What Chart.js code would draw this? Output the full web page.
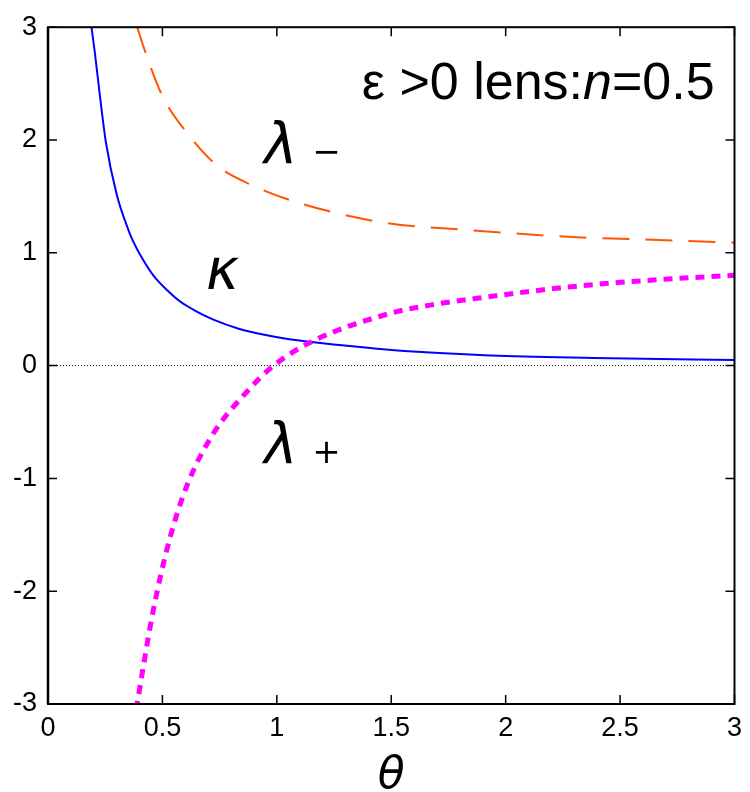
<!DOCTYPE html>
<html><head><meta charset="utf-8">
<script src="https://cdn.jsdelivr.net/npm/chart.js@4/dist/chart.umd.min.js"></script>
<style>html,body{margin:0;padding:0;background:#fff}</style>
</head><body>
<canvas id="c" width="750" height="792"></canvas>
<script>
// ---- data ----
const kappaTheta = [0.190, 0.205, 0.227, 0.253, 0.30, 0.35, 0.37, 0.409, 0.46, 0.52, 0.576, 0.64, 0.72, 0.837, 0.94, 1.055, 1.273, 1.49, 1.71, 1.97, 2.46, 3.0];
const kappaVal   = [3.0,   2.77,  2.39,  1.98,  1.52, 1.21, 1.11, 0.96,  0.80, 0.67, 0.57,  0.49, 0.41, 0.325, 0.275, 0.233, 0.182, 0.141, 0.111, 0.087, 0.066, 0.049];

const lamMinusTheta = [0.39, 0.427, 0.50, 0.605, 0.735, 0.88, 1.085, 1.46, 1.85, 2.29, 2.73, 3.0];
const lamMinusVal   = [3.0,  2.77,  2.39, 2.07,  1.78,  1.61, 1.45,  1.27, 1.20, 1.14, 1.11, 1.09];

const lamPlusTheta = [0.385, 0.46, 0.53, 0.61, 0.72, 0.87, 0.98, 1.15, 1.49, 1.695, 1.85, 2.29, 2.73, 3.0];
const lamPlusVal   = [-3.05, -2.17, -1.55, -1.05, -0.61, -0.23, -0.01, 0.21, 0.46, 0.545, 0.59, 0.70, 0.77, 0.80];

const zeroTheta = [0, 3];
const zeroVal = [0, 0];

const xTickValues = [0, 0.5, 1, 1.5, 2, 2.5, 3];
const yTickValues = [-3, -2, -1, 0, 1, 2, 3];

const xTitle = 'θ';
const headerPlain = 'ε >0 lens:';
const headerItalic = 'n';
const headerTail = '=0.5';
const lambdaSym = 'λ';
const kappaSym = 'κ';
const minusSub = '−';
const plusSub = '+';

// ---- build ----
const pts = (xs, ys) => xs.map((x, i) => ({x, y: ys[i]}));

const annot = {
  id: 'annot',
  afterDatasetsDraw(chart) {
    const {ctx, chartArea: a, scales: {x, y}} = chart;
    ctx.save();
    ctx.strokeStyle = '#000';
    ctx.lineWidth = 2;
    ctx.strokeRect(a.left, a.top, a.right - a.left, a.bottom - a.top);
    ctx.lineWidth = 2.5;
    ctx.beginPath();
    ctx.moveTo(a.left, a.top); ctx.lineTo(a.left, a.bottom);
    ctx.stroke();
    ctx.lineWidth = 1.5;
    ctx.beginPath();
    const tl = 9;
    xTickValues.forEach(v => {
      const px = x.getPixelForValue(v);
      ctx.moveTo(px, a.bottom); ctx.lineTo(px, a.bottom - tl);
      ctx.moveTo(px, a.top); ctx.lineTo(px, a.top + tl);
    });
    yTickValues.forEach(v => {
      const py = y.getPixelForValue(v);
      ctx.moveTo(a.left, py); ctx.lineTo(a.left + tl, py);
      ctx.moveTo(a.right, py); ctx.lineTo(a.right - tl, py);
    });
    ctx.stroke();

    ctx.fillStyle = '#000';
    ctx.textBaseline = 'alphabetic';
    ctx.textAlign = 'left';
    const fN = '52px "Liberation Sans", Arial, sans-serif';
    const fI = 'italic 52px "Liberation Sans", Arial, sans-serif';
    ctx.font = fN; const w1 = ctx.measureText(headerPlain).width; const w3 = ctx.measureText(headerTail).width;
    ctx.font = fI; const w2 = ctx.measureText(headerItalic).width;
    const hx = x.getPixelForValue(2.913) - (w1 + w2 + w3);
    const hy = y.getPixelForValue(2.365);
    ctx.font = fN; ctx.fillText(headerPlain, hx, hy);
    ctx.font = fI; ctx.fillText(headerItalic, hx + w1, hy);
    ctx.font = fN; ctx.fillText(headerTail, hx + w1 + w2, hy);

    const fG = 'italic 56px "DejaVu Sans", sans-serif';
    const fS = '34px "DejaVu Sans", sans-serif';
    ctx.font = fG;
    ctx.fillText(lambdaSym, x.getPixelForValue(0.945), y.getPixelForValue(1.80));
    ctx.fillText(kappaSym, x.getPixelForValue(0.69), y.getPixelForValue(0.68));
    ctx.fillText(lambdaSym, x.getPixelForValue(0.945), y.getPixelForValue(-0.865));
    ctx.font = fS;
    ctx.fillText(minusSub, x.getPixelForValue(1.155), y.getPixelForValue(1.80));
    ctx.fillText(plusSub, x.getPixelForValue(1.155), y.getPixelForValue(-0.865));
    ctx.restore();
  }
};

const tickFont = { family: '"Liberation Sans", Arial, sans-serif', size: 27 };

new Chart(document.getElementById('c'), {
  type: 'line',
  data: {
    datasets: [
      { data: pts(lamPlusTheta, lamPlusVal), borderColor: '#ff00ff', borderWidth: 5, borderDash: [9, 7], cubicInterpolationMode: 'monotone' },
      { data: pts(lamMinusTheta, lamMinusVal), borderColor: '#ff5500', borderWidth: 2, borderDash: [27, 16], cubicInterpolationMode: 'monotone' },
      { data: pts(kappaTheta, kappaVal), borderColor: '#0000ff', borderWidth: 2, cubicInterpolationMode: 'monotone' },
      { data: pts(zeroTheta, zeroVal), borderColor: '#000', borderWidth: 1, borderDash: [1, 2] }
    ]
  },
  options: {
    responsive: false,
    devicePixelRatio: 1,
    animation: false,
    layout: { padding: { top: 24, right: 14, left: 0, bottom: 0 } },
    elements: { point: { radius: 0 } },
    plugins: { legend: { display: false }, tooltip: { enabled: false } },
    scales: {
      x: {
        type: 'linear', min: 0, max: 3,
        grid: { display: false, drawTicks: false },
        border: { display: false },
        afterBuildTicks: s => { s.ticks = xTickValues.map(v => ({value: v})); },
        afterFit: s => { s.height = 88; },
        ticks: { color: '#000', padding: 8, maxRotation: 0, font: tickFont, callback: v => String(v) },
        title: { display: true, text: xTitle, color: '#000', padding: 0, font: { family: '"DejaVu Sans", sans-serif', style: 'italic', size: 44, lineHeight: 0.7 } }
      },
      y: {
        type: 'linear', min: -3, max: 3,
        grid: { display: false, drawTicks: false },
        border: { display: false },
        afterBuildTicks: s => { s.ticks = yTickValues.map(v => ({value: v})); },
        afterFit: s => { s.width = 48; },
        ticks: { color: '#000', padding: 11, font: tickFont, callback: v => String(v) }
      }
    }
  },
  plugins: [annot]
});
</script>
</body></html>
